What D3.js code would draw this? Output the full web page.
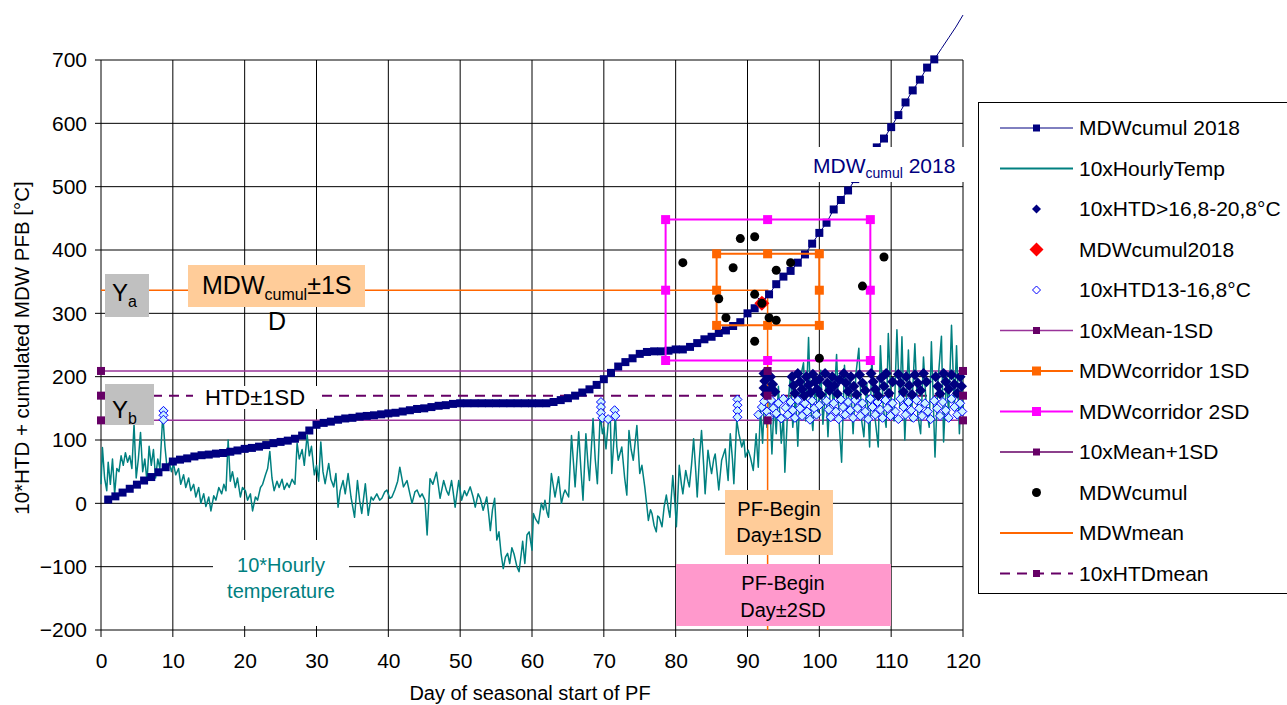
<!DOCTYPE html>
<html>
<head>
<meta charset="utf-8">
<script src="https://cdn.jsdelivr.net/npm/d3@7"></script>
<style>
  body { margin: 0; background: #fff; }
  svg text { font-family: "Liberation Sans", Arial, sans-serif; }
</style>
</head>
<body>
<div id="chart"></div>
<script>
// ---- data ----
const xTicks = [0, 10, 20, 30, 40, 50, 60, 70, 80, 90, 100, 110, 120];
const yTicks = [-200, -100, 0, 100, 200, 300, 400, 500, 600, 700];

// MDWcumul 2018, one value per day 1..120 (markers only shown up to 700)
const mdwDays = d3.range(1, 121);
const mdw2018 = [
  6, 11, 17, 23, 29.5, 36, 41.5, 49, 57, 66,
  69, 71, 74, 76, 77, 78.5, 79.5, 81.5, 83.5, 86,
  87.5, 89.5, 92, 95, 97, 99, 102, 107, 115, 124,
  127, 129, 132, 134, 135, 137, 138, 139, 140.5, 142,
  143, 145, 147, 149, 150, 152, 154, 155, 157, 158,
  158, 158, 158, 158, 158, 158, 158, 158, 158, 158,
  158, 158, 160, 163, 166, 170, 175, 180, 187, 196,
  206, 216, 223, 229, 236, 239, 240, 240, 241, 243,
  243, 247, 253, 259, 263, 269, 273, 280, 286, 300,
  308, 318, 330, 346, 358, 367, 380, 393, 410, 427,
  443, 464, 479, 494, 512, 530, 548, 562, 576, 594,
  613, 633, 652, 669, 688, 701, 718, 735, 752, 771
];

// 10 x hourly temperature [day, value]
const hourlyTemp = [
  [0,30],[0.2,88],[0.5,40],[0.8,20],[1.0,65],[1.3,30],[1.6,70],[1.9,15],[2.2,55],[2.5,50],[2.8,75],[3.1,60],
  [3.4,80],[3.7,65],[4.0,75],[4.3,55],[4.6,125],[4.9,40],[5.2,70],[5.5,112],[5.8,50],[6.1,70],[6.4,35],[6.7,90],
  [7.0,60],[7.3,85],[7.6,40],[7.9,70],[8.2,55],[8.6,140],[8.9,90],[9.2,55],[9.5,65],[9.8,50],[10.1,62],
  [10.4,45],[10.8,55],[11.1,30],[11.5,45],[11.8,25],[12.2,40],[12.5,20],[12.9,30],[13.2,10],[13.6,25],[13.9,0],
  [14.3,15],[14.6,-5],[15.0,10],[15.3,-12],[15.7,12],[16.0,5],[16.4,25],[16.8,15],[17.1,30],[17.4,20],[17.7,100],
  [18.0,35],[18.3,50],[18.7,25],[19.0,40],[19.4,10],[19.7,25],[20.1,20],[20.4,5],[20.8,15],[21.1,-12],[21.5,10],
  [21.8,5],[22.2,25],[22.5,30],[22.9,45],[23.2,55],[23.5,82],[23.8,40],[24.1,20],[24.5,35],[24.8,25],[25.2,38],
  [25.5,22],[25.9,32],[26.2,25],[26.6,38],[27.0,30],[27.3,95],[27.6,70],[28.0,85],[28.3,60],[28.7,108],[29.0,75],
  [29.3,90],[29.7,45],[30.0,60],[30.3,35],[30.6,97],[30.9,50],[31.2,31],[31.7,63],[32.0,38],[32.4,26],[32.7,47],
  [33.0,-6],[33.3,20],[33.7,36],[34.0,15],[34.4,47],[34.8,10],[35.3,-22],[35.7,36],[36.0,5],[36.3,-16],[36.8,31],
  [37.2,-19],[37.6,10],[37.9,5],[38.4,15],[38.8,5],[39.1,8],[39.5,18],[39.8,21],[40.2,8],[40.5,10],[40.9,21],
  [41.3,35],[41.6,57],[42.1,26],[42.6,36],[43.0,15],[43.3,0],[43.7,18],[44.0,21],[44.4,10],[44.7,15],[45.1,5],
  [45.4,-50],[45.8,39],[46.2,30],[46.7,49],[47.0,25],[47.2,8],[47.7,36],[48.1,20],[48.4,13],[48.8,36],[49.0,20],
  [49.3,-6],[49.8,36],[50.2,5],[50.6,20],[50.9,12],[51.4,26],[51.8,10],[52.1,-6],[52.5,15],[52.8,8],[53.2,-11],
  [53.7,10],[54.0,-20],[54.2,-43],[54.5,-10],[54.8,8],[55.1,-58],[55.4,-45],[55.7,-80],[56.0,-103],[56.3,-85],
  [56.6,-79],[56.9,-95],[57.2,-70],[57.5,-80],[57.9,-100],[58.2,-108],[58.5,-80],[58.7,-60],[59.0,-95],[59.3,-50],
  [59.6,-45],[60.0,-74],[60.2,-16],[60.5,-25],[60.9,-32],[61.3,0],[61.6,-10],[61.8,5],[62.1,-15],[62.3,-22],
  [62.7,47],[63.0,25],[63.2,10],[63.7,42],[64.1,0],[64.4,15],[64.6,21],[65.1,10],[65.5,107],[65.8,60],[66.0,26],
  [66.5,113],[66.8,55],[67.1,5],[67.5,110],[67.8,60],[68.0,36],[68.5,134],[68.8,70],[69.1,31],[69.5,142],[69.8,110],
  [70.0,120],[70.3,86],[70.6,125],[70.9,136],[71.1,47],[71.4,100],[71.6,142],[71.8,90],[72.0,68],[72.5,89],[72.9,40],
  [73.2,13],[73.5,115],[73.8,85],[74.1,68],[74.6,123],[75.0,47],[75.3,60],[75.7,26],[76.0,-5],[76.2,-27],[76.5,-10],
  [76.7,-16],[77.0,-35],[77.3,-45],[77.5,-20],[77.7,-22],[78.1,-37],[78.4,-5],[78.7,13],[79.0,-10],[79.2,-22],
  [79.6,44],[79.9,0],[80.1,-37],[80.5,60],[80.8,30],[81.0,15],[81.4,52],[81.7,35],[81.9,26],[82.2,60],[82.5,102],
  [82.8,50],[83.0,10],[83.3,70],[83.6,115],[83.9,60],[84.1,15],[84.5,84],[84.8,60],[85.0,47],[85.3,70],[85.5,78],
  [85.8,45],[86.0,21],[86.4,68],[86.9,86],[87.1,60],[87.3,36],[87.6,110],[87.9,70],[88.1,31],[88.5,131],[88.8,110],
  [89.2,89],[89.5,100],[89.7,73],[90.1,84],[90.4,73],[90.8,52],[91.2,110],[91.5,57],[91.8,150],[92.1,95],[92.4,175],
  [92.7,120],[93.0,190],[93.4,78],[93.7,160],[94.0,110],[94.3,185],[94.7,95],[95.0,140],[95.2,49],[95.6,150],
  [96.0,205],[96.3,120],[96.7,170],[97.0,90],[97.4,200],[97.8,222],[98.1,130],[98.5,262],[98.8,150],[99.1,115],
  [99.4,190],[99.8,140],[100.2,210],[100.5,125],[100.9,185],[101.2,105],[101.6,200],[102.0,150],[102.4,235],
  [102.8,120],[103.1,65],[103.5,218],[103.9,140],[104.3,200],[104.7,110],[105.1,205],[105.5,245],[105.9,130],
  [106.2,105],[106.6,190],[107.0,89],[107.3,231],[107.7,140],[108.2,89],[108.5,249],[108.9,150],[109.3,120],
  [109.6,268],[110.0,160],[110.4,130],[110.8,274],[111.2,150],[111.5,263],[111.9,100],[112.4,242],[112.8,130],
  [113.3,252],[113.7,140],[114.1,110],[114.5,231],[114.9,150],[115.3,120],[115.6,255],[116.1,73],[116.5,190],
  [117.0,264],[117.3,97],[117.7,200],[118.0,140],[118.4,281],[118.8,150],[119.1,249],[119.5,110],[119.8,200],[120,150]
];

// 10xHTD>16,8-20,8°C  (filled navy diamonds)
const htdHigh = [
  [92.3,205],[92.4,193],[92.3,182],[92.5,172],[93.1,178],[93.2,200],[93.5,188],[93.8,176],
  [96.2,200],[96.4,186],[96.6,174],[97.0,205],[97.3,192],[97.6,180],[97.9,170],[98.2,200],[98.5,187],[98.8,175],
  [99.1,204],[99.4,192],[99.7,180],[100.0,196],[100.2,172],
  [100.8,205],[101.1,190],[101.4,178],[101.8,200],[102.1,186],[102.5,173],[102.8,195],
  [103.4,205],[103.7,190],[104.0,177],[104.4,200],[104.8,185],[105.2,172],[105.6,203],[106.0,190],[106.4,178],
  [107.2,205],[107.5,192],[107.8,180],[108.2,170],[108.6,198],[109.0,185],[109.3,205],[109.7,174],[110.2,192],
  [111.0,204],[111.3,190],[111.7,176],[112.1,200],[112.5,186],[112.9,172],[113.3,203],[113.7,190],[114.1,178],
  [114.5,205],[114.9,192],
  [116.2,200],[116.5,185],[116.8,173],[117.3,205],[117.6,192],[118.0,180],[118.4,203],[118.8,188],[119.2,174],
  [119.6,200],[119.8,185]
];

// 10xHTD13-16,8°C  (hollow blue diamonds)
const htdLow = [
  [8.7,146],[8.7,139],[8.7,132],
  [69.6,160],[69.6,152],[69.6,143],[69.8,135],[70.6,133],[71.5,147],[71.6,138],
  [88.6,164],[88.6,155],[88.6,146],[88.6,136],
  [91.5,140],[92.0,152],[92.3,161],[92.7,145],[93.0,136],[93.3,163],[93.6,150],[94.0,142],[94.3,158],[94.7,134],
  [95.0,165],[95.3,151],[95.6,140],[96.0,160],[96.3,147],[96.6,135],[97.0,163],[97.3,150],[97.6,138],[98.0,158],
  [98.3,145],[98.7,132],[99.0,162],[99.3,150],[99.6,140],[100.0,155],
  [101.0,162],[101.3,148],[101.6,136],[102.0,158],[102.3,145],[102.7,133],[103.0,164],[103.3,152],[103.6,140],
  [104.0,160],[104.3,147],[104.7,135],[105.0,163],[105.3,150],[105.7,138],[106.0,158],[106.4,145],[106.8,133],
  [107.1,165],[107.4,152],[107.8,140],[108.1,160],[108.5,148],[108.8,135],[109.2,163],[109.5,150],[109.9,138],
  [110.2,158],[110.6,145],[111.0,133],[111.3,165],[111.7,152],[112.0,140],[112.4,160],[112.8,147],[113.1,135],
  [113.5,163],[113.9,150],[114.3,138],[114.7,158],[115.1,145],[115.5,133],[116.0,162],[116.4,150],[116.8,138],
  [117.2,160],[117.6,147],[118.0,135],[118.4,165],[118.8,152],[119.2,140],[119.6,158],[119.9,145]
];

// MDWcumul of the other years (black dots)
const mdwCumulDays = [81, 89, 91, 88, 94, 96, 109, 106, 86, 91, 92, 87, 93, 94, 91, 100];
const mdwCumulVals = [380, 418, 421, 372, 368, 380, 389, 343, 323, 330, 316, 293, 293, 289, 256, 229];

// MDWcumul2018 at PF begin (red diamond)
const mdwPoint2018 = [[92, 316]];

// corridors (days / values, drawn as closed polylines)
const corr1Days = [85.7, 92.8, 100, 100, 100, 92.8, 85.7, 85.7, 85.7];
const corr1Vals = [394, 394, 394, 336.5, 281, 281, 281, 336.5, 394];
const corr2Days = [78.6, 92.8, 107.1, 107.1, 107.1, 92.8, 78.6, 78.6, 78.6];
const corr2Vals = [448, 448, 448, 336.5, 225.5, 225.5, 225.5, 336.5, 448];

// MDW mean (horizontal to PF begin, then down)
const mdwMeanDays = [0, 92.8, 92.8];
const mdwMeanVals = [336.5, 336.5, -200];

// HTD mean and ±1SD
const htdDays = [0, 92.8, 120];
const meanPlus1SD = [209, 209, 209];
const meanMinus1SD = [131, 131, 131];
const htdMean = [170, 170, 170];

const legendLabels = [
  'MDWcumul 2018', '10xHourlyTemp', '10xHTD>16,8-20,8°C', 'MDWcumul2018', '10xHTD13-16,8°C',
  '10xMean-1SD', 'MDWcorridor 1SD', 'MDWcorridor 2SD', '10xMean+1SD', 'MDWcumul', 'MDWmean', '10xHTDmean'
];

// ---- drawing ----
const W = 1287, H = 705;
const svg = d3.select('#chart').append('svg').attr('width', W).attr('height', H);

const x = d3.scaleLinear().domain([0, 120]).range([101, 963]);
const y = d3.scaleLinear().domain([-200, 700]).range([630, 60]);

const NAVY = '#000080', TEAL = '#008080', ORANGE = '#FF6600', MAGENTA = '#FF00FF';
const PURPLE_LINE = '#993399', PURPLE_MARK = '#660066', BLUE = '#0000FF';

const diamond = r => `M0,${-r}L${r},0L0,${r}L${-r},0Z`;
const square = s => `M${-s / 2},${-s / 2}h${s}v${s}h${-s}Z`;

// grid
const grid = svg.append('g');
grid.selectAll('.vg').data(xTicks).enter().append('line')
  .attr('x1', d => x(d)).attr('x2', d => x(d)).attr('y1', y(700)).attr('y2', y(-200) + 7)
  .attr('stroke', '#000').attr('stroke-width', 1);
grid.selectAll('.hg').data(yTicks).enter().append('line')
  .attr('x1', x(0) - 6).attr('x2', x(120)).attr('y1', d => y(d)).attr('y2', d => y(d))
  .attr('stroke', '#000').attr('stroke-width', 1);

// axes labels via d3 axes
const yAxis = svg.append('g').attr('transform', `translate(${x(0)},0)`)
  .call(d3.axisLeft(y).tickValues(yTicks).tickSize(0).tickPadding(14));
const xAxis = svg.append('g').attr('transform', `translate(0,${y(-200)})`)
  .call(d3.axisBottom(x).tickValues(xTicks).tickSize(0).tickPadding(23));
[yAxis, xAxis].forEach(a => {
  a.select('.domain').remove();
  a.selectAll('text').attr('font-size', 21).attr('fill', '#000')
    .style('font-family', '"Liberation Sans", Arial, sans-serif');
});

svg.append('text').attr('x', 530).attr('y', 700).attr('text-anchor', 'middle')
  .attr('font-size', 20).text('Day of seasonal start of PF');
svg.append('text').attr('transform', 'translate(29,348) rotate(-90)').attr('text-anchor', 'middle')
  .attr('font-size', 20.5).text('10*HTD + cumulated MDW PFB [°C]');

const line = d3.line().x(d => x(d[0])).y(d => y(d[1]));
const zip = (a, b) => a.map((d, i) => [d, b[i]]);

// purple mean ±1SD lines and dashed HTD mean
svg.append('path').datum(zip(htdDays, meanPlus1SD)).attr('d', line)
  .attr('fill', 'none').attr('stroke', PURPLE_LINE).attr('stroke-width', 1.5);
svg.append('path').datum(zip(htdDays, meanMinus1SD)).attr('d', line)
  .attr('fill', 'none').attr('stroke', PURPLE_LINE).attr('stroke-width', 1.5);
svg.append('path').datum(zip(htdDays, htdMean)).attr('d', line)
  .attr('fill', 'none').attr('stroke', PURPLE_MARK).attr('stroke-width', 2).attr('stroke-dasharray', '10,7');

// hourly temperature
svg.append('path').datum(hourlyTemp).attr('d', line)
  .attr('fill', 'none').attr('stroke', TEAL).attr('stroke-width', 1.5).attr('stroke-linejoin', 'round');

// MDW mean
svg.append('path').datum(zip(mdwMeanDays, mdwMeanVals)).attr('d', line)
  .attr('fill', 'none').attr('stroke', ORANGE).attr('stroke-width', 1.5);

// HTD diamonds
svg.append('g').selectAll('path').data(htdLow).enter().append('path')
  .attr('d', diamond(4.5)).attr('transform', d => `translate(${x(d[0])},${y(d[1])})`)
  .attr('fill', '#ccf2ff').attr('stroke', BLUE).attr('stroke-width', 1);
svg.append('g').selectAll('path').data(htdHigh).enter().append('path')
  .attr('d', diamond(5.5)).attr('transform', d => `translate(${x(d[0])},${y(d[1])})`)
  .attr('fill', NAVY);

// MDWcumul 2018 curve
const mdwSeries = zip(mdwDays, mdw2018);
svg.append('path').datum(mdwSeries).attr('d', line)
  .attr('fill', 'none').attr('stroke', NAVY).attr('stroke-width', 1);
svg.append('g').selectAll('path').data(mdwSeries.filter(d => d[1] <= 702)).enter().append('path')
  .attr('d', square(8)).attr('transform', d => `translate(${x(d[0])},${y(d[1])})`)
  .attr('fill', NAVY);

// corridors
[[corr2Days, corr2Vals, MAGENTA], [corr1Days, corr1Vals, ORANGE]].forEach(([dd, vv, c]) => {
  const pts = zip(dd, vv);
  svg.append('path').datum(pts).attr('d', line).attr('fill', 'none').attr('stroke', c).attr('stroke-width', 2);
  svg.append('g').selectAll('path').data(pts.slice(0, 8)).enter().append('path')
    .attr('d', square(9)).attr('transform', d => `translate(${x(d[0])},${y(d[1])})`).attr('fill', c);
});

// red diamond and black dots
svg.append('g').selectAll('path').data(mdwPoint2018).enter().append('path')
  .attr('d', diamond(7.5)).attr('transform', d => `translate(${x(d[0])},${y(d[1])})`).attr('fill', '#FF0000');
svg.append('g').selectAll('circle').data(zip(mdwCumulDays, mdwCumulVals)).enter().append('circle')
  .attr('cx', d => x(d[0])).attr('cy', d => y(d[1])).attr('r', 4.5).attr('fill', '#000');

// purple markers
[meanPlus1SD, meanMinus1SD, htdMean].forEach(vals => {
  svg.append('g').selectAll('path').data(zip(htdDays, vals)).enter().append('path')
    .attr('d', square(8)).attr('transform', d => `translate(${x(d[0])},${y(d[1])})`).attr('fill', PURPLE_MARK);
});

// ---- annotation boxes ----
function box(x0, y0, w, h, fill) {
  svg.append('rect').attr('x', x0).attr('y', y0).attr('width', w).attr('height', h).attr('fill', fill);
}
function label(tx, ty, parts, anchor, color) {
  const t = svg.append('text').attr('x', tx).attr('y', ty).attr('fill', color || '#000')
    .attr('text-anchor', anchor || 'start');
  parts.forEach(p => {
    t.append('tspan').attr('font-size', p.size).attr('dy', p.dy || 0).text(p.t);
  });
  return t;
}

// Ya / Yb
box(105, 274, 44, 43, '#C0C0C0');
label(112, 301, [{ t: 'Y', size: 24 }, { t: 'a', size: 16, dy: 6 }]);
box(105, 384, 49, 41, '#C0C0C0');
label(112, 418, [{ t: 'Y', size: 24 }, { t: 'b', size: 16, dy: 6 }]);

// MDWcumul ±1SD
box(188, 265, 177, 42, '#FFCC99');
label(202, 294, [{ t: 'MDW', size: 25 }, { t: 'cumul', size: 16, dy: 6 }, { t: '±1S', size: 25, dy: -6 }]);
label(277, 330, [{ t: 'D', size: 25 }], 'middle');

// HTD ±1SD
box(193, 386, 124, 23, '#fff');
label(255, 405, [{ t: 'HTD±1SD', size: 22 }], 'middle');

// 10*Hourly temperature
box(213, 540, 136, 86, '#fff');
label(281, 572, [{ t: '10*Hourly', size: 20 }], 'middle', TEAL);
label(281, 598, [{ t: 'temperature', size: 20 }], 'middle', TEAL);

// MDWcumul 2018 label
box(809, 147, 155, 35, '#fff');
label(813, 173, [{ t: 'MDW', size: 21 }, { t: 'cumul', size: 14, dy: 5 }, { t: ' 2018', size: 21, dy: -5 }], 'start', NAVY);

// PF-Begin boxes
box(725, 490, 108, 65, '#FFCC99');
label(779, 516, [{ t: 'PF-Begin', size: 20 }], 'middle');
label(779, 542, [{ t: 'Day±1SD', size: 20 }], 'middle');
box(676, 564, 215, 62, '#FF99CC');
label(783, 590, [{ t: 'PF-Begin', size: 20 }], 'middle');
label(783, 617, [{ t: 'Day±2SD', size: 20 }], 'middle');

// ---- legend ----
const lg = svg.append('g');
lg.append('rect').attr('x', 978.5).attr('y', 102.5).attr('width', 330).attr('height', 491)
  .attr('fill', '#fff').attr('stroke', '#000').attr('stroke-width', 1);
const legendStyles = [
  { line: NAVY, lw: 1, mark: square(7), mf: NAVY },
  { line: TEAL, lw: 2 },
  { mark: diamond(4.5), mf: NAVY },
  { mark: diamond(7), mf: '#FF0000' },
  { mark: diamond(4), mf: '#fff', ms: BLUE },
  { line: PURPLE_LINE, lw: 1.5, mark: square(7), mf: PURPLE_MARK },
  { line: ORANGE, lw: 2, mark: square(9), mf: ORANGE },
  { line: MAGENTA, lw: 2, mark: square(9), mf: MAGENTA },
  { line: PURPLE_MARK, lw: 1.5, mark: square(7), mf: PURPLE_MARK },
  { circle: true },
  { line: ORANGE, lw: 2 },
  { line: PURPLE_MARK, lw: 2, dash: '10,7', mark: square(7), mf: PURPLE_MARK }
];
legendLabels.forEach((name, i) => {
  const cy = 128 + i * 40.5;
  const st = legendStyles[i];
  if (st.line) {
    lg.append('line').attr('x1', 1000).attr('x2', 1073).attr('y1', cy).attr('y2', cy)
      .attr('stroke', st.line).attr('stroke-width', st.lw).attr('stroke-dasharray', st.dash || null);
  }
  if (st.mark) {
    lg.append('path').attr('d', st.mark).attr('transform', `translate(1036.5,${cy})`)
      .attr('fill', st.mf).attr('stroke', st.ms || 'none');
  }
  if (st.circle) {
    lg.append('circle').attr('cx', 1036.5).attr('cy', cy).attr('r', 4.5).attr('fill', '#000');
  }
  lg.append('text').attr('x', 1079).attr('y', cy).attr('dy', '0.35em').attr('font-size', 21).text(name);
});
</script>
</body>
</html>
